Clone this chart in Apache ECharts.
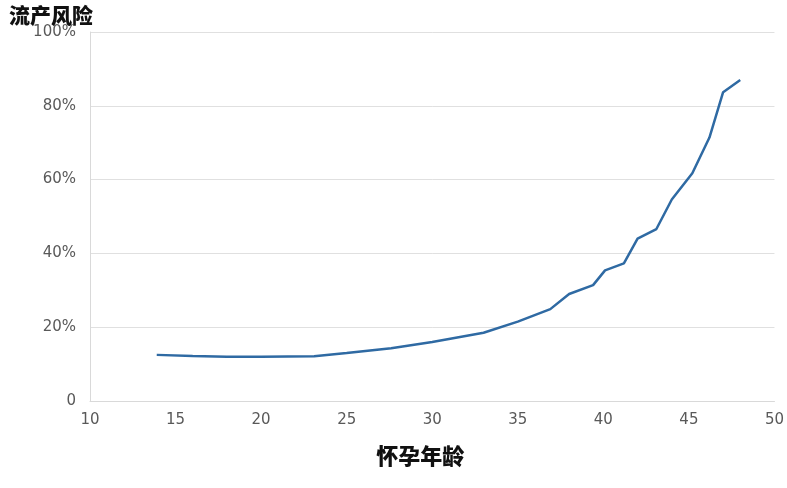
<!DOCTYPE html>
<html>
<head>
<meta charset="utf-8">
<script src="https://cdn.jsdelivr.net/npm/echarts@6/dist/echarts.min.js"></script>
<style>
    html, body { margin: 0; padding: 0; background: #fff; }
    #chart { width: 787px; height: 488px; }
</style>
</head>
<body>
<div id="chart"></div>
<script>
// 怀孕年龄（岁）
const ages = [13.9, 16, 18, 20, 23.1, 25, 27.6, 30, 33, 35, 36.9, 38, 39.4, 40.1, 41.2, 42, 43.1, 44, 45.2, 46.2, 47, 48];
// 流产风险（%）
const risks = [12.5, 12.2, 12.0, 12.0, 12.1, 13.0, 14.3, 16.0, 18.5, 21.5, 24.9, 29.0, 31.4, 35.4, 37.3, 44.0, 46.6, 54.6, 61.7, 71.4, 83.7, 87.0];

const chart = echarts.init(document.getElementById('chart'));

const labelFont = '"DejaVu Sans", sans-serif';
const cjkFont = '"Noto Sans CJK SC", serif';

const option = {
    animation: false,
    title: {
        text: '流产风险',
        left: 4,
        top: 0,
        textStyle: {
            fontFamily: cjkFont,
            fontWeight: 900,
            fontSize: 21,
            color: '#111'
        }
    },
    grid: {
        left: 90,
        right: 12,
        top: 32,
        bottom: 87
    },
    xAxis: {
        type: 'value',
        min: 10,
        max: 50,
        interval: 5,
        name: '怀孕年龄',
        nameLocation: 'middle',
        nameGap: 44,
        nameTextStyle: {
            fontFamily: cjkFont,
            fontWeight: 900,
            fontSize: 22,
            color: '#111',
            padding: [0, 24, 0, 0]
        },
        axisLine: { lineStyle: { color: '#d9d9d9', width: 1 } },
        axisTick: { show: false },
        splitLine: { show: false },
        axisLabel: {
            margin: 12,
            fontFamily: labelFont,
            fontSize: 15,
            color: '#595959'
        }
    },
    yAxis: {
        type: 'value',
        min: 0,
        max: 100,
        interval: 20,
        axisLine: { show: true, lineStyle: { color: '#d9d9d9', width: 1 } },
        axisTick: { show: false },
        splitLine: { lineStyle: { color: '#e0e0e0', width: 1 } },
        axisLabel: {
            margin: 14,
            fontFamily: labelFont,
            fontSize: 15,
            color: '#595959',
            formatter: v => v === 0 ? '0' : v + '%'
        }
    },
    series: [{
        type: 'line',
        data: ages.map((a, i) => [a, risks[i]]),
        showSymbol: false,
        lineStyle: { color: '#2f6aa3', width: 2.5 },
        itemStyle: { color: '#2f6aa3' }
    }]
};

chart.setOption(option);
</script>
</body>
</html>
